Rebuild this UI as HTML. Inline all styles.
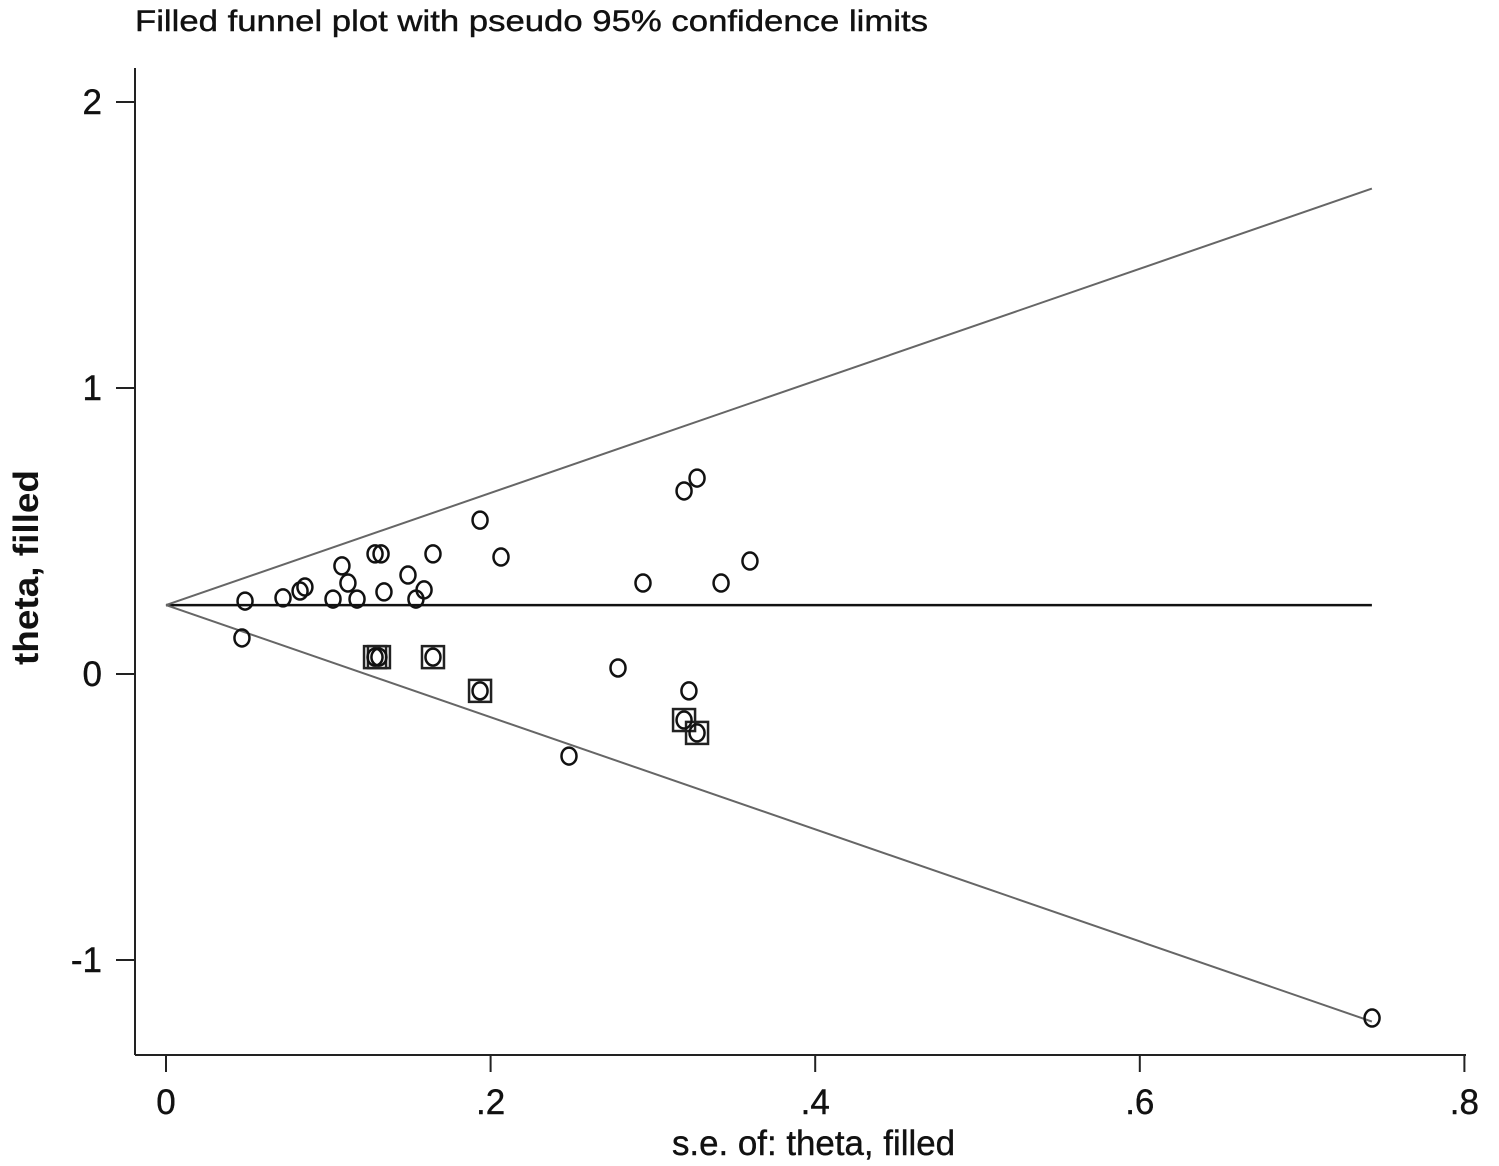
<!DOCTYPE html>
<html><head><meta charset="utf-8"><style>
html,body{margin:0;padding:0;background:#fff;}
svg{display:block;font-family:"Liberation Sans",Arial,sans-serif;}
</style></head><body>
<svg id="chart" width="1499" height="1166" viewBox="0 0 1499 1166" xmlns="http://www.w3.org/2000/svg">
<text x="135" y="31" font-size="30" fill="#111" stroke="#111" stroke-width="0.4" textLength="793" lengthAdjust="spacingAndGlyphs">Filled funnel plot with pseudo 95% confidence limits</text>
<g id="axes"></g>
<g id="marks"></g>
</svg>
<script>
const circleSE=[.0487,.0468,.0721,.0826,.0856,.1029,.1084,.1121,.1177,.1288,.1325,.1343,.1491,.1540,.1590,.1645,.1935,.2064,.2939,.3192,.3272,.3420,.3598,.2785,.3222,.2483,.7431,.1288,.1312,.1645,.1935,.3192,.3272];
const circleTheta=[.255,.126,.266,.290,.304,.262,.378,.318,.262,.420,.420,.287,.346,.262,.294,.420,.538,.409,.318,.640,.685,.318,.395,.021,-.059,-.287,-1.203,.059,.059,.059,-.059,-.161,-.206];
const filledSE=[.1288,.1312,.1645,.1935,.3192,.3272];
const filledTheta=[.059,.059,.059,-.059,-.161,-.206];
const pooledTheta=0.241;
const maxSE=0.743;
const xTicks=[0,.2,.4,.6,.8];
const xTickLabels=["0",".2",".4",".6",".8"];
const yTicks=[-1,0,1,2];
const yTickLabels=["-1","0","1","2"];

const NS="http://www.w3.org/2000/svg";
const sx=v=>166+v*1623;
const sy=v=>674-v*286;
function mk(tag,attrs,parent,text){const e=document.createElementNS(NS,tag);for(const k in attrs)e.setAttribute(k,attrs[k]);if(text!==undefined)e.textContent=text;parent.appendChild(e);return e;}
const axes=document.getElementById('axes'),marks=document.getElementById('marks');

let a=mk('line',{x1:135,y1:68,x2:135,y2:1055,stroke:'#222','stroke-width':2},axes);


a=mk('line',{x1:135,y1:1055,x2:1466,y2:1055,stroke:'#222','stroke-width':2},axes);


yTicks.forEach((t,i)=>{
  const y=sy(t);
  let l=mk('line',{x1:116,y1:y,x2:135,y2:y,stroke:'#222','stroke-width':2},axes);
  
  
  let tx=mk('text',{x:102,y:y+12,'font-size':35,'text-anchor':'end',fill:'#111',stroke:'#111','stroke-width':0.4},axes,yTickLabels[i]);
  
  
});
xTicks.forEach((t,i)=>{
  const x=sx(t);
  let l=mk('line',{x1:x,y1:1055,x2:x,y2:1072,stroke:'#222','stroke-width':2},axes);
  
  
  let tx=mk('text',{x:x,y:1114,'font-size':35,'text-anchor':'middle',fill:'#111',stroke:'#111','stroke-width':0.4},axes,xTickLabels[i]);
  
  
});
let t=mk('text',{x:672,y:1155,'font-size':35,fill:'#111',stroke:'#111','stroke-width':0.4,textLength:283,lengthAdjust:'spacingAndGlyphs'},axes,'s.e. of: theta, filled');


t=mk('text',{x:0,y:0,'font-size':35,'font-weight':'bold',fill:'#111',textLength:195,lengthAdjust:'spacingAndGlyphs',transform:'translate(38,665) rotate(-90)'},axes,'theta, filled');



let ln=mk('line',{x1:sx(0),y1:sy(pooledTheta),x2:sx(maxSE),y2:sy(pooledTheta),stroke:'#111','stroke-width':2.5},marks);


ln=mk('line',{x1:sx(0),y1:sy(pooledTheta),x2:sx(maxSE),y2:sy(pooledTheta+1.96*maxSE),stroke:'#666','stroke-width':2},marks);


ln=mk('line',{x1:sx(0),y1:sy(pooledTheta),x2:sx(maxSE),y2:sy(pooledTheta-1.96*maxSE),stroke:'#666','stroke-width':2},marks);



filledSE.forEach((s,i)=>{
  const r=mk('rect',{x:sx(s)-11,y:sy(filledTheta[i])-11,width:22,height:22,fill:'none',stroke:'#222','stroke-width':2.5},marks);
  
  
});
circleSE.forEach((s,i)=>{
  const c=mk('ellipse',{cx:sx(s),cy:sy(circleTheta[i]),rx:7.5,ry:8.5,fill:'none',stroke:'#111','stroke-width':2.5},marks);
  
  
});
</script>
</body></html>
